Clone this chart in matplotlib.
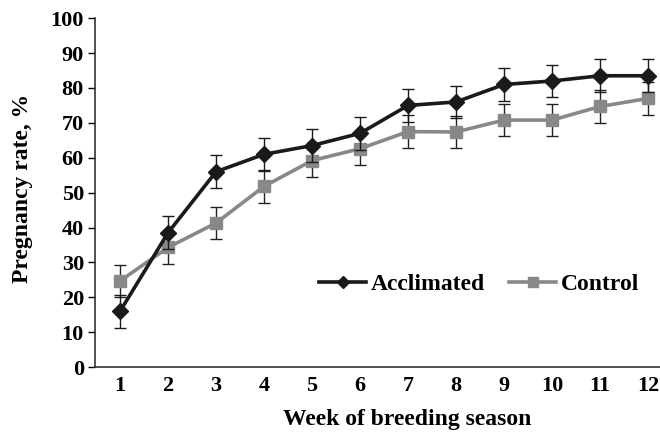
import matplotlib
matplotlib.use("Agg")
import matplotlib.pyplot as plt
from matplotlib.lines import Line2D

# data
weeks = [1, 2, 3, 4, 5, 6, 7, 8, 9, 10, 11, 12]
acclimated = [16, 38.5, 56, 61, 63.5, 67, 75, 76, 81, 82, 83.5, 83.5]
acclimated_err = [4.7, 4.7, 4.7, 4.7, 4.7, 4.7, 4.7, 4.7, 4.7, 4.7, 4.7, 4.7]
control = [24.7, 34.3, 41.3, 51.8, 59.2, 62.6, 67.5, 67.4, 70.8, 70.8, 74.7, 77]
control_err = [4.7, 4.7, 4.7, 4.7, 4.7, 4.7, 4.7, 4.7, 4.7, 4.7, 4.7, 4.7]
yticks = [0, 10, 20, 30, 40, 50, 60, 70, 80, 90, 100]

plt.rcParams['font.family'] = ['Liberation Serif', 'DejaVu Serif']
plt.rcParams['font.weight'] = 'bold'

fig = plt.figure(figsize=(6.6, 4.33), dpi=100)
ax = fig.add_axes([0.144, 0.152, 0.856, 0.806])

black = '#1a1a1a'
grey = '#888888'

ax.errorbar(weeks, control, yerr=control_err, color=grey, lw=2.6,
            marker='s', ms=9, ecolor='#222222', elinewidth=1, capsize=4,
            capthick=1, zorder=2)
ax.errorbar(weeks, acclimated, yerr=acclimated_err, color=black, lw=2.6,
            marker='D', ms=8, ecolor=black, elinewidth=1, capsize=4,
            capthick=1, zorder=3)

ax.set_xlim(0.48, 12.25)
ax.set_ylim(0, 100)
ax.set_yticks(yticks)
ax.set_xticks(weeks)
ax.tick_params(axis='x', length=0, labelsize=16, pad=6)
ax.tick_params(axis='y', length=5, width=1, labelsize=16, direction='out', pad=3)
for s in ['top', 'right']:
    ax.spines[s].set_visible(False)
for s in ['left', 'bottom']:
    ax.spines[s].set_linewidth(1.2)
    ax.spines[s].set_color('#333333')

ax.set_xlabel('Week of breeding season', fontsize=17, fontweight='bold')
ax.set_ylabel('Pregnancy rate, %', fontsize=17, fontweight='bold')
ax.xaxis.set_label_coords(0.552, -0.12)
ax.yaxis.set_label_coords(-0.11, 0.513)

handles = [Line2D([], [], color=black, lw=2.6, marker='D', ms=6),
           Line2D([], [], color=grey, lw=2.6, marker='s', ms=7)]
leg = ax.legend(handles, ['Acclimated', 'Control'], loc='center',
                bbox_to_anchor=(0.68, 0.238), ncol=2, frameon=False,
                fontsize=17, handlelength=2.0, columnspacing=1.0,
                handletextpad=0.2)

fig.savefig('out.png', dpi=100)
